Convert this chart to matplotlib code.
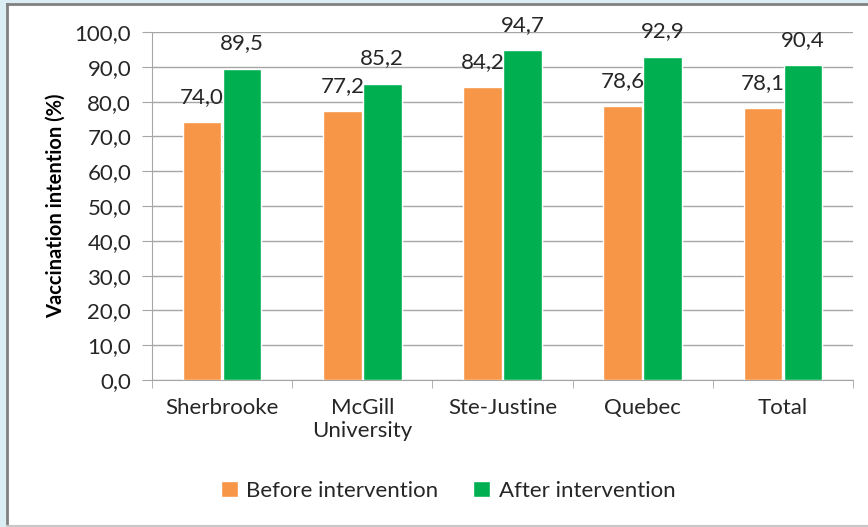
import numpy as np
import matplotlib.pyplot as plt
from matplotlib.patches import Rectangle
from matplotlib.lines import Line2D

# data
sites = ['Sherbrooke', 'McGill\nUniversity', 'Ste-Justine', 'Quebec', 'Total']
before = [74.0, 77.2, 84.2, 78.6, 78.1]
after = [89.5, 85.2, 94.7, 92.9, 90.4]
yticks = np.arange(0, 101, 10)

orange = '#F79646'
green = '#00B050'
txt = '#262626'
plt.rcParams['font.family'] = ['Lato', 'DejaVu Sans']

fig = plt.figure(figsize=(8.68, 5.27), dpi=100)
# light blue frame with dark edge, like the screenshot
fig.patches.append(Rectangle((0, 0), 1, 1, transform=fig.transFigure,
                             facecolor='#DAEEF3', edgecolor='none', zorder=-3))
fig.patches.append(Rectangle((7 / 868, 1 / 527), 1, 1 - 6 / 527, transform=fig.transFigure,
                             facecolor='white', edgecolor='none', zorder=-2))
fig.lines.append(Line2D([7 / 868, 7 / 868], [0, 1 - 4 / 527], transform=fig.transFigure,
                        color='#808080', lw=2))
fig.lines.append(Line2D([7 / 868, 1], [1 - 4 / 527, 1 - 4 / 527], transform=fig.transFigure,
                        color='#808080', lw=2))
fig.lines.append(Line2D([7 / 868, 1], [1 / 527, 1 / 527], transform=fig.transFigure,
                        color='#C8C8C8', lw=1.5))

ax = fig.add_axes([152 / 868, 147 / 527, 701 / 868, 348 / 527])
x = np.arange(len(sites))
w = 0.275
b1 = ax.bar(x - w / 2 - 0.005, before, w, color=orange, edgecolor='white', lw=1, zorder=3,
            label='Before intervention')
b2 = ax.bar(x + w / 2 + 0.005, after, w, color=green, edgecolor='white', lw=1, zorder=3,
            label='After intervention')

for bars, vals in ((b1, before), (b2, after)):
    for r, v in zip(bars, vals):
        ax.annotate(('%.1f' % v).replace('.', ','), (r.get_x() + r.get_width() / 2, v),
                    xytext=(0, 11), textcoords='offset points', ha='center', va='bottom',
                    fontsize=16, color=txt, zorder=4)

ax.set_xlim(-0.5, len(sites) - 0.5)
ax.set_ylim(0, 100)
ax.set_yticks(yticks)
ax.set_yticklabels([('%.1f' % t).replace('.', ',') for t in yticks], fontsize=16, color=txt)
ax.set_xticks(x)
ax.set_xticklabels(sites, fontsize=16, color=txt)
ax.set_xticks(np.arange(-0.5, len(sites), 1), minor=True)
ax.tick_params(axis='x', which='major', length=0, pad=13)
ax.tick_params(axis='x', which='minor', length=6, color='#A6A6A6')
ax.tick_params(axis='y', length=7, color='#A6A6A6', pad=8)
ax.grid(axis='y', color='#A6A6A6', lw=1, zorder=0)
for s in ['top', 'right']:
    ax.spines[s].set_visible(False)
for s in ['left', 'bottom']:
    ax.spines[s].set_color('#A6A6A6')

ax.set_ylabel('Vaccination intention (%)', fontsize=14.5, fontweight='bold', color='black',
              labelpad=6)

fig.legend(handles=[b1, b2], loc='center', bbox_to_anchor=(448 / 868, 1 - 491 / 527),
           ncol=2, frameon=False, fontsize=16, handlelength=0.75, handleheight=0.75,
           columnspacing=1.55, handletextpad=0.4, labelcolor=txt)

fig.savefig('out.png', dpi=100)
